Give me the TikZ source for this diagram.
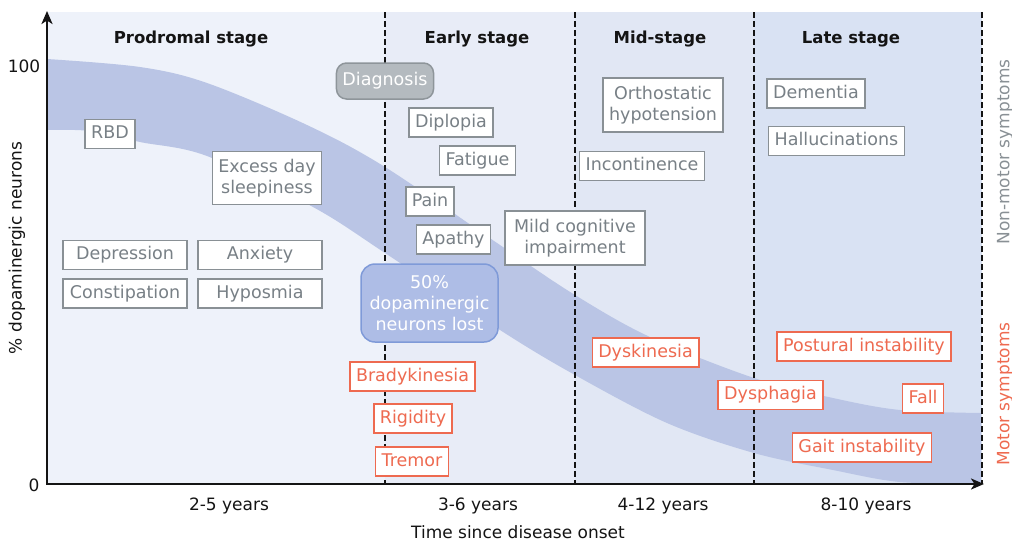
\documentclass[tikz,border=0pt]{standalone}
\usepackage{fontspec}
\setmainfont{DejaVu Sans}
\usepackage{tikz}
\usepackage{xcolor}
\usetikzlibrary{arrows.meta}
\definecolor{ink}      {HTML}{141414}
\definecolor{nmtext}   {HTML}{788086}
\definecolor{nmline}   {HTML}{899095}
\definecolor{motor}    {HTML}{EE6A50}
\definecolor{prodbg}   {HTML}{EEF2FA}
\definecolor{earlybg}  {HTML}{E8ECF7}
\definecolor{midbg}    {HTML}{E1E7F4}
\definecolor{latebg}   {HTML}{D9E2F3}
\definecolor{bandblue} {HTML}{BAC5E5}
\definecolor{diagfill} {HTML}{B4BABF}
\definecolor{diagline} {HTML}{8E959A}
\definecolor{lostfill} {HTML}{AEBDE6}
\definecolor{lostline} {HTML}{7F9AD8}
\newcommand{\boxfont}{\fontsize{17.5pt}{21pt}\selectfont}
\newcommand{\axfont}{\fontsize{17pt}{20pt}\selectfont}
\tikzset{
  symbox/.style    ={draw, fill=white, line width=1.5pt, font=\boxfont,
                     inner xsep=6pt, inner ysep=3pt, text height=13pt,
                     text depth=4pt, minimum height=29pt, align=center},
  nmbox/.style     ={symbox, draw=nmline, text=nmtext},
  mbox/.style      ={symbox, draw=motor, text=motor},
  multiline/.style ={text height={}, text depth={}},
  diagbox/.style   ={symbox, draw=diagline, fill=diagfill, text=white,
                     rounded corners=10pt, minimum height=36pt},
  lostbox/.style   ={symbox, multiline, draw=lostline, fill=lostfill,
                     text=white, rounded corners=14pt, minimum height=78pt,
                     minimum width=137pt},
  stagetitle/.style={font=\fontsize{16.5pt}{20pt}\selectfont\bfseries,
                     text=ink, anchor=base},
  axlabel/.style   ={font=\axfont, text=ink, anchor=base},
  sidelabel/.style ={font=\axfont, rotate=90, anchor=center},
  stageline/.style ={ink, line width=1.2pt, dash pattern=on 5.5pt off 3.5pt},
  axisline/.style  ={draw=ink, line width=2.8pt,
                     arrows={Stealth[length=13pt,width=11pt,inset=3.5pt]-Stealth[length=13pt,width=11pt,inset=3.5pt]}},
}
\begin{document}
\begin{tikzpicture}[x=1pt,y=-1pt]
  \useasboundingbox (0,0) rectangle (1012,542);
  % stage backgrounds
  \fill[prodbg]  (47,12)  rectangle (385,484);
  \fill[earlybg] (385,12) rectangle (575,484);
  \fill[midbg]   (575,12) rectangle (754,484);
  \fill[latebg]  (754,12) rectangle (982,484);
  % neuron loss band
  \fill[bandblue]
    plot[smooth,tension=0.55] coordinates {(47,59) (140,67) (207,83) (307,125)
      (385,167) (500,245) (575,295) (650,337) (754,378) (833,398) (900,410) (981,413)}
    -- plot[smooth,tension=0.55] coordinates {(981,484) (900,482) (833,470)
      (754,453) (667,423) (575,375) (500,330) (385,253) (313,207) (207,156)
      (140,142) (90,131) (47,130)}
    -- cycle;
  \foreach \xx in {385,575,754,982}
    \draw[stageline] (\xx,12) -- (\xx,484);
  % stage titles
  \node[stagetitle] (prodromal) at (191,43) {Prodromal stage};
  \node[stagetitle] (early)     at (477,43) {Early stage};
  \node[stagetitle] (mid)       at (660,43) {Mid-stage};
  \node[stagetitle] (late)      at (851,43) {Late stage};
  % prodromal
  \node[nmbox] (rbd)    at (110,134) {RBD};
  \node[nmbox,multiline,minimum height=53pt] (sleep) at (267,178) {Excess day\\sleepiness};
  \node[nmbox,minimum width=124pt] (depr)  at (125,255)   {Depression};
  \node[nmbox,minimum width=124pt] (anx)   at (260,255)   {Anxiety};
  \node[nmbox,minimum width=124pt] (const) at (125,293.5) {Constipation};
  \node[nmbox,minimum width=124pt] (hypo)  at (260,293.5) {Hyposmia};
  % early
  \node[diagbox] (diag)   at (385,81)    {Diagnosis};
  \node[nmbox]   (dipl)   at (451,122.5) {Diplopia};
  \node[nmbox]   (fatig)  at (477.5,160.5) {Fatigue};
  \node[nmbox]   (pain)   at (430,201.5) {Pain};
  \node[nmbox]   (apathy) at (453.5,239.5) {Apathy};
  \node[lostbox] (lost)   at (429.5,303) {50\%\\dopaminergic\\neurons lost};
  \node[nmbox,multiline,minimum height=54pt,minimum width=140pt] (mci) at (575,238)
    {Mild cognitive\\impairment};
  \node[mbox] (brady)  at (412.5,376.5) {Bradykinesia};
  \node[mbox] (rigid)  at (413,418.5)   {Rigidity};
  \node[mbox] (tremor) at (412,461.5)   {Tremor};
  % mid
  \node[nmbox,multiline,minimum height=54pt] (ortho) at (663,105) {Orthostatic\\hypotension};
  \node[nmbox] (incont) at (642,166)   {Incontinence};
  \node[mbox]  (dysk)   at (645.5,352.5) {Dyskinesia};
  % late
  \node[nmbox] (dement)   at (816,93.5)  {Dementia};
  \node[nmbox] (halluc)   at (836.5,141) {Hallucinations};
  \node[mbox]  (postural) at (864,346.5) {Postural instability};
  \node[mbox]  (dysph)    at (770.5,395) {Dysphagia};
  \node[mbox]  (fall)     at (923,398.5) {Fall};
  \node[mbox]  (gait)     at (862,447.5) {Gait instability};
  % axes
  \coordinate (origin) at (47,484);
  \coordinate (ytop)   at (47,11);
  \coordinate (xend)   at (984,484);
  \draw[axisline] (ytop) -- (origin) -- (xend);
  \node[axlabel] (ymax) at (24,72)  {100};
  \node[axlabel] (ymin) at (34,491) {0};
  \node[axlabel,rotate=90,anchor=center] (ylab) at (17,248) {\% dopaminergic neurons};
  \node[axlabel] (yrs1) at (229,510) {2-5 years};
  \node[axlabel] (yrs2) at (478,510) {3-6 years};
  \node[axlabel] (yrs3) at (663,510) {4-12 years};
  \node[axlabel] (yrs4) at (866,510) {8-10 years};
  \node[axlabel] (xlab) at (518,538) {Time since disease onset};
  % symptom groups
  \node[sidelabel,text=nmline] (nonmotor) at (1005,152) {Non-motor symptoms};
  \node[sidelabel,text=motor]  (motorlab) at (1005,394) {Motor symptoms};
\end{tikzpicture}
\end{document}
